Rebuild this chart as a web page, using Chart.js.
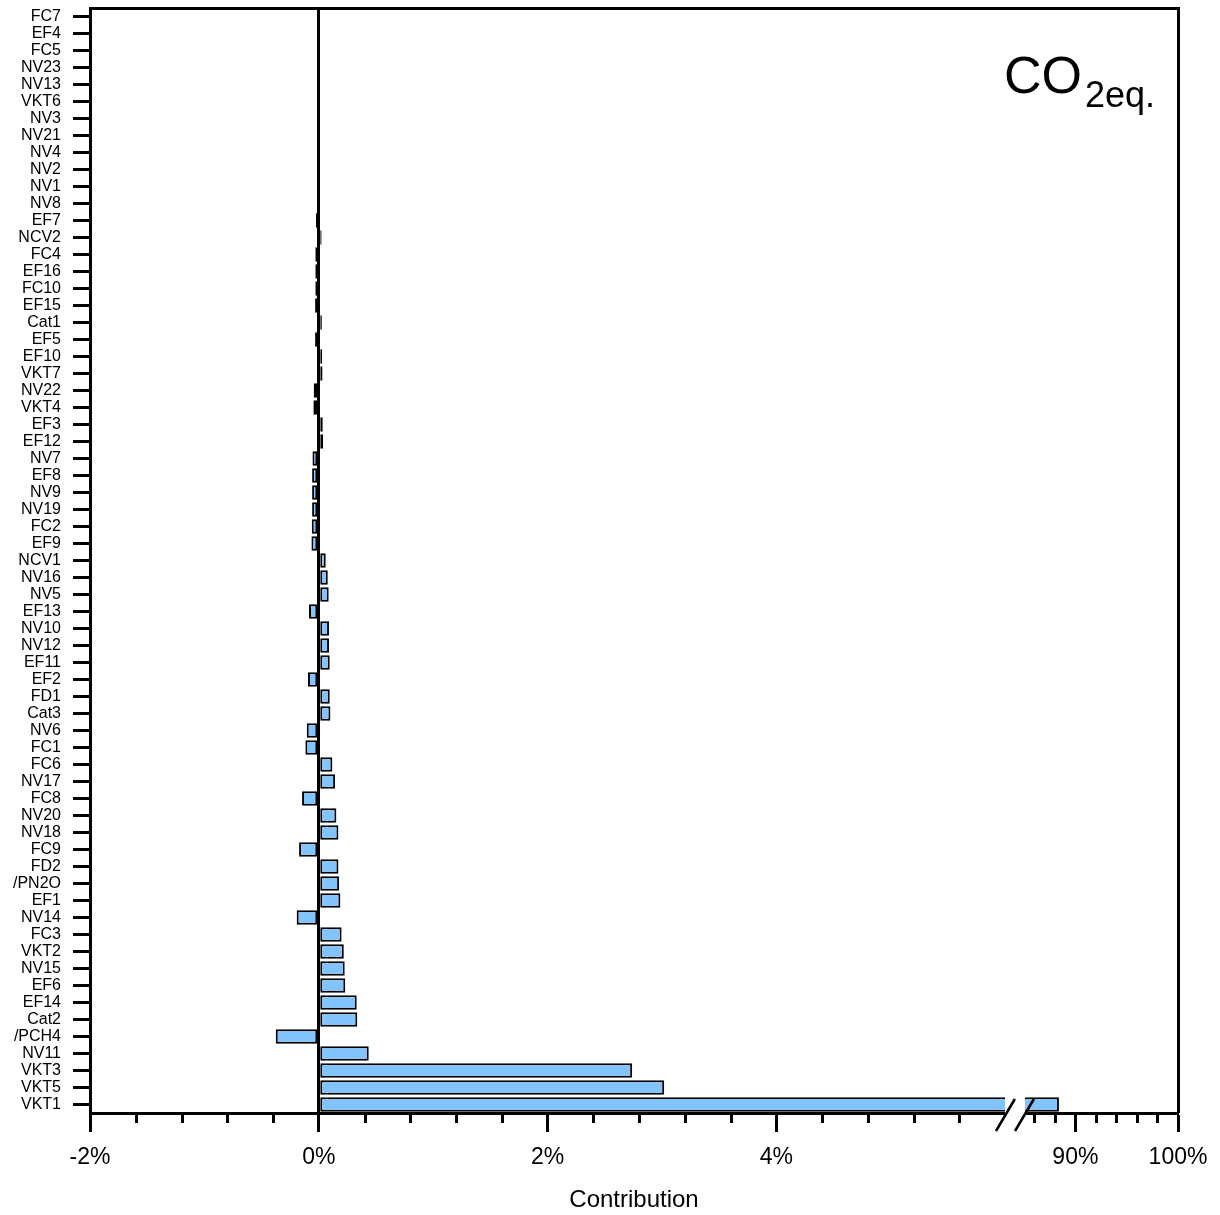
<!DOCTYPE html>
<html><head><meta charset="utf-8">
<script src="https://cdn.jsdelivr.net/npm/chart.js@4.4.1/dist/chart.umd.min.js"></script>
<style>
html,body{margin:0;padding:0;background:#fff;}
#wrap{position:relative;width:1220px;height:1215px;overflow:hidden;}
canvas{position:absolute;left:0;top:0;}
.lbl{position:absolute;font-family:'Liberation Sans',Arial,sans-serif;color:#000;white-space:nowrap;}
</style></head><body>
<div id="wrap">
<canvas id="c" width="1220" height="1215"></canvas>
<div class="lbl" style="left:1004px;top:49px;font-size:52px;line-height:52px;">CO</div>
<div class="lbl" style="left:1085px;top:77px;font-size:36px;line-height:36px;">2eq.</div>
</div>
<script>
// ---------------- data ----------------
const CATEGORIES = ['FC7','EF4','FC5','NV23','NV13','VKT6','NV3','NV21','NV4','NV2','NV1','NV8',
  'EF7','NCV2','FC4','EF16','FC10','EF15','Cat1','EF5','EF10','VKT7','NV22','VKT4','EF3','EF12',
  'NV7','EF8','NV9','NV19','FC2','EF9','NCV1','NV16','NV5','EF13','NV10','NV12','EF11','EF2',
  'FD1','Cat3','NV6','FC1','FC6','NV17','FC8','NV20','NV18','FC9','FD2','/PN2O','EF1','NV14',
  'FC3','VKT2','NV15','EF6','EF14','Cat2','/PCH4','NV11','VKT3','VKT5','VKT1'];
const CONTRIBUTION = [0,0,0,0,0,0,0,0,0,0,0,0,
  -0.025,0.025,-0.030,-0.030,-0.030,-0.032,0.027,-0.032,0.030,0.033,-0.044,-0.047,0.035,0.038,
  -0.055,-0.058,-0.058,-0.058,-0.061,-0.064,0.061,0.079,0.087,-0.085,0.090,0.090,0.096,-0.094,
  0.096,0.102,-0.105,-0.117,0.119,0.143,-0.146,0.154,0.172,-0.172,0.172,0.178,0.189,-0.193,
  0.200,0.219,0.227,0.232,0.332,0.337,-0.376,0.437,2.74,3.02,88.4];
const X_TICK_VALUES = [-2, 0, 2, 4, 90, 100];
const X_TICK_LABELS = ['-2%', '0%', '2%', '4%', '90%', '100%'];
const X_MINOR_TICKS = [-1.6,-1.2,-0.8,-0.4,0.4,0.8,1.2,1.6,2.4,2.8,3.2,3.6,4.4,4.8,5.2,5.6,86,88,92,94,96,98];
const AXIS_SEGMENTS = [[-2, 6], [85, 100]];
const X_TITLE = 'Contribution';

// ---------------- layout constants ----------------
const SEGMENT_FRACTIONS = [[0, 0.841], [0.8585, 1]];
const FONT = "'Liberation Sans', Arial, sans-serif";
Chart.defaults.font.family = FONT;
Chart.defaults.color = '#000';

// ---------------- broken linear scale ----------------
class BrokenLinearScale extends Chart.LinearScale {
  determineDataLimits() {
    this.min = AXIS_SEGMENTS[0][0];
    this.max = AXIS_SEGMENTS[AXIS_SEGMENTS.length - 1][1];
  }
  buildTicks() {
    return X_TICK_VALUES.map(v => ({ value: v }));
  }
  _toDecimal(v) {
    const [s1, s2] = AXIS_SEGMENTS, [f1, f2] = SEGMENT_FRACTIONS;
    if (v <= s1[1]) return f1[0] + (v - s1[0]) / (s1[1] - s1[0]) * (f1[1] - f1[0]);
    if (v >= s2[0]) return f2[0] + (v - s2[0]) / (s2[1] - s2[0]) * (f2[1] - f2[0]);
    return f1[1] + (v - s1[1]) / (s2[0] - s1[1]) * (f2[0] - f1[1]);
  }
  _fromDecimal(d) {
    const [s1, s2] = AXIS_SEGMENTS, [f1, f2] = SEGMENT_FRACTIONS;
    if (d <= f1[1]) return s1[0] + (d - f1[0]) / (f1[1] - f1[0]) * (s1[1] - s1[0]);
    if (d >= f2[0]) return s2[0] + (d - f2[0]) / (f2[1] - f2[0]) * (s2[1] - s2[0]);
    return s1[1] + (d - f1[1]) / (f2[0] - f1[1]) * (s2[0] - s1[1]);
  }
  getPixelForValue(value) {
    if (value === null || value === undefined || isNaN(value)) return NaN;
    return this.getPixelForDecimal(this._toDecimal(+value));
  }
  getValueForPixel(pixel) {
    return this._fromDecimal(this.getDecimalForPixel(pixel));
  }
}
BrokenLinearScale.id = 'brokenLinear';
BrokenLinearScale.defaults = Chart.LinearScale.defaults;
Chart.register(BrokenLinearScale);

// ---------------- decorations: minor ticks, frame, axis break ----------------
const decorPlugin = {
  id: 'decor',
  afterDraw(chart) {
    const { ctx, chartArea: ca, scales: { x } } = chart;
    ctx.save();
    ctx.strokeStyle = '#000';
    ctx.lineWidth = 3;
    ctx.lineCap = 'butt';
    ctx.beginPath();
    X_MINOR_TICKS.forEach(v => {
      const px = Math.round(x.getPixelForValue(v)) + 0.5;
      ctx.moveTo(px, ca.bottom);
      ctx.lineTo(px, ca.bottom + 10);
    });
    ctx.stroke();
    // top and right frame
    ctx.beginPath();
    ctx.moveTo(ca.left, Math.round(ca.top) + 0.5);
    ctx.lineTo(Math.round(ca.right) + 0.5, Math.round(ca.top) + 0.5);
    ctx.lineTo(Math.round(ca.right) + 0.5, ca.bottom);
    ctx.stroke();
    // axis break
    const xa = x.getPixelForValue(AXIS_SEGMENTS[0][1]);
    const xb = x.getPixelForValue(AXIS_SEGMENTS[1][0]);
    const yb = ca.bottom;
    ctx.fillStyle = '#fff';
    ctx.fillRect(xa, yb - 17, xb - xa + 1, 20);
    const slope = 0.59;
    const at = (base, y) => base - (y - yb) * slope;
    ctx.lineWidth = 2.5;
    const y1 = yb - 14, y2 = yb + 18;
    const s1 = xa + 1.6, s2 = xb + 1.6;
    ctx.beginPath();
    ctx.moveTo(at(s1, y1), y1); ctx.lineTo(at(s1, y2), y2);
    ctx.moveTo(at(s2, y1), y1); ctx.lineTo(at(s2, y2), y2);
    ctx.stroke();
    ctx.restore();
  }
};

new Chart(document.getElementById('c'), {
  type: 'bar',
  data: {
    labels: CATEGORIES,
    datasets: [{
      data: CONTRIBUTION,
      backgroundColor: '#82C4FF',
      borderColor: '#000',
      borderWidth: 2,
      borderSkipped: false,
      barPercentage: 0.84,
      categoryPercentage: 1
    }]
  },
  options: {
    indexAxis: 'y',
    responsive: false,
    animation: false,
    events: [],
    layout: { padding: { left: 0, top: 8, right: 42, bottom: 0 } },
    plugins: { legend: { display: false }, tooltip: { enabled: false } },
    scales: {
      x: {
        type: 'brokenLinear',
        position: 'bottom',
        afterFit(s) { s.height = 102; s.paddingLeft = 0; s.paddingRight = 0; },
        border: { display: true, color: '#000', width: 3 },
        grid: {
          drawOnChartArea: true,
          color: c => (c.tick && c.tick.value === 0) ? '#000' : 'rgba(0,0,0,0)',
          lineWidth: c => (c.tick && c.tick.value === 0) ? 3 : 1,
          tickColor: '#000',
          tickWidth: 3,
          tickLength: 19
        },
        ticks: {
          autoSkip: false,
          maxRotation: 0,
          padding: 12,
          font: { size: 23 },
          color: '#000',
          callback: v => { const i = X_TICK_VALUES.indexOf(v); return i >= 0 ? X_TICK_LABELS[i] : ''; }
        },
        title: { display: true, text: X_TITLE, font: { size: 24 }, color: '#000', padding: { top: 0, bottom: 0 } }
      },
      y: {
        type: 'category',
        offset: true,
        afterFit(s) { s.width = 90; s.paddingTop = 0; s.paddingBottom = 0; },
        border: { display: true, color: '#000', width: 3 },
        grid: { drawOnChartArea: false, offset: false, tickColor: '#000', tickWidth: 3, tickLength: 17 },
        ticks: { autoSkip: false, padding: 12, font: { size: 16 }, color: '#000' }
      }
    }
  },
  plugins: [decorPlugin]
});
</script>
</body></html>
